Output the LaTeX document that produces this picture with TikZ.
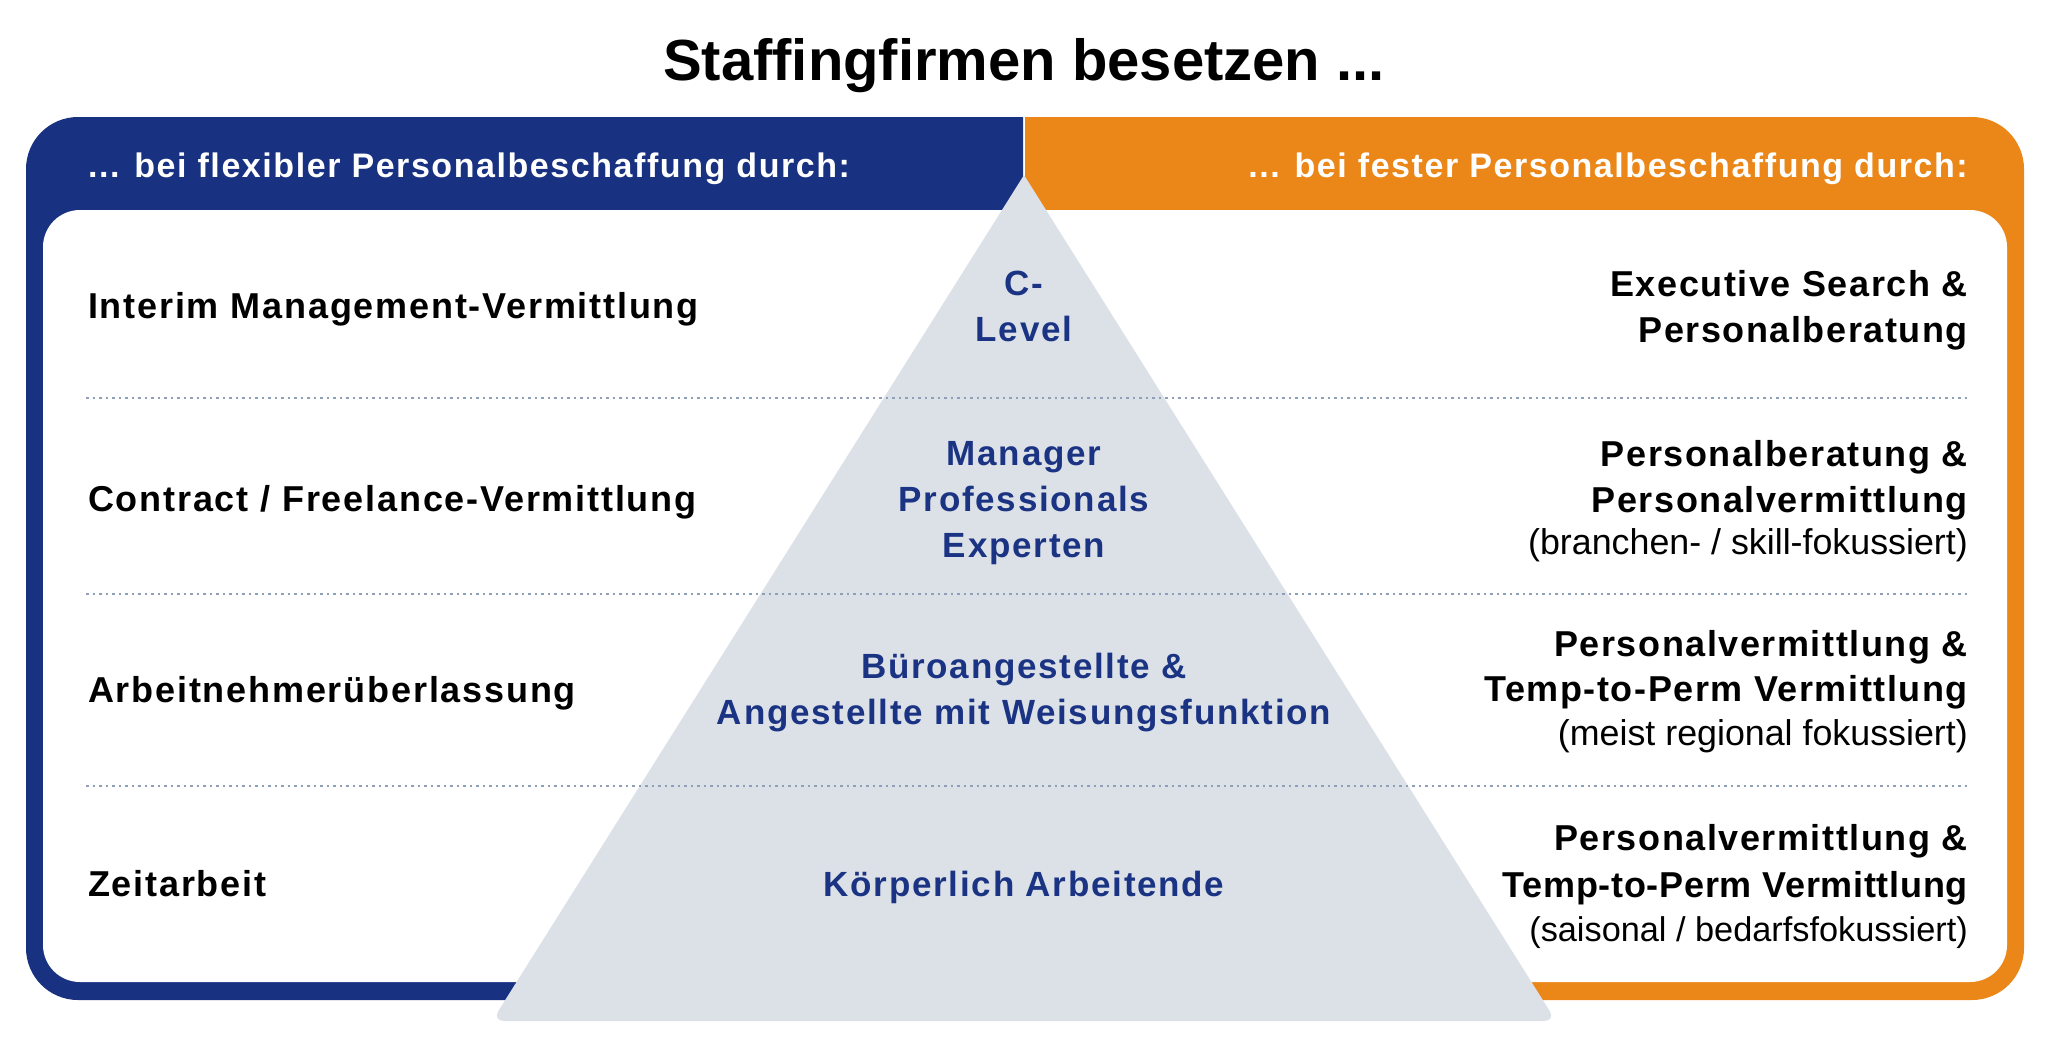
\documentclass[tikz,border=0pt]{standalone}
\usepackage{fontspec}
\setmainfont{Liberation Sans}
\newfontfamily\lsLeft[LetterSpace=5]{Liberation Sans}
\newfontfamily\lsRight[LetterSpace=4.3]{Liberation Sans}
\newfontfamily\lsRightTight[LetterSpace=2]{Liberation Sans}
\newfontfamily\lsHead[LetterSpace=4.6]{Liberation Sans}
\newfontfamily\lsMid[LetterSpace=5]{Liberation Sans}
\definecolor{frameblue}{HTML}{183181}
\definecolor{frameorange}{HTML}{EB8719}
\definecolor{pyrgray}{HTML}{DCE1E8}
\definecolor{midblue}{HTML}{1B3383}
\definecolor{dotcol}{HTML}{8E9FB8}
\tikzset{
  titletxt/.style={anchor=base, inner sep=0pt, font={\bfseries\fontsize{58}{66}\selectfont}},
  headtxt/.style={inner sep=0pt, text=white, font={\lsHead\bfseries\fontsize{34}{40}\selectfont}},
  lefttxt/.style={anchor=base west, inner sep=0pt, font={\lsLeft\bfseries\fontsize{36}{42}\selectfont}},
  righttxt/.style={anchor=base east, inner sep=0pt, font={\lsRight\bfseries\fontsize{36}{42}\selectfont}},
  righttight/.style={anchor=base east, inner sep=0pt, font={\lsRightTight\bfseries\fontsize{36}{42}\selectfont}},
  rightsub/.style={anchor=base east, inner sep=0pt, font={\fontsize{35.8}{40}\selectfont}},
  rightsubtight/.style={anchor=base east, inner sep=0pt, font={\fontsize{34.3}{40}\selectfont}},
  midtxt/.style={anchor=base, inner sep=0pt, text=midblue, font={\lsMid\bfseries\fontsize{35}{40}\selectfont}},
  sepline/.style={dotcol, line width=2.5pt, dash pattern=on 2.5pt off 4pt},
}
\begin{document}
\begin{tikzpicture}[x=1pt,y=-1pt]
\useasboundingbox (0,0) rectangle (2048,1042);
% frame halves
\begin{scope}
  \clip (0,100) rectangle (1023,1010);
  \fill[frameblue, rounded corners=52] (26,117) rectangle (2024,1000);
\end{scope}
\begin{scope}
  \clip (1025,100) rectangle (2048,1010);
  \fill[frameorange, rounded corners=52] (26,117) rectangle (2024,1000);
\end{scope}
\fill[white, rounded corners=37] (43,210) rectangle (2007,982);
% pyramid
\fill[pyrgray] (1024,175) [rounded corners=12] -- (492,1021) -- (1556,1021) [sharp corners] -- cycle;
% separators
\coordinate (s1a) at (86,398); \coordinate (s1b) at (1970,398);
\coordinate (s2a) at (86,594); \coordinate (s2b) at (1970,594);
\coordinate (s3a) at (86,786); \coordinate (s3b) at (1970,786);
\draw[sepline] (s1a) -- (s1b);
\draw[sepline] (s2a) -- (s2b);
\draw[sepline] (s3a) -- (s3b);
% title
\node[titletxt] (title) at (1024,80) {Staffingfirmen besetzen ...};
% headers
\node[headtxt, anchor=base west] (hl) at (88,177) {... bei flexibler Personalbeschaffung durch:};
\node[headtxt, anchor=base east] (hr) at (1968,177) {... bei fester Personalbeschaffung durch:};
% left column
\node[lefttxt] (l1) at (88,318) {Interim Management-Vermittlung};
\node[lefttxt] (l2) at (88,511) {Contract / Freelance-Vermittlung};
\node[lefttxt] (l3) at (88,702) {Arbeitnehmerüberlassung};
\node[lefttxt] (l4) at (88,896) {Zeitarbeit};
% middle column
\node[midtxt] (m1a) at (1024,295) {C-};
\node[midtxt] (m1b) at (1024,341) {Level};
\node[midtxt] (m2a) at (1024,465) {Manager};
\node[midtxt] (m2b) at (1024,511) {Professionals};
\node[midtxt] (m2c) at (1024,557) {Experten};
\node[midtxt] (m3a) at (1024,678) {Büroangestellte \&};
\node[midtxt] (m3b) at (1024,724) {Angestellte mit Weisungsfunktion};
\node[midtxt] (m4) at (1024,896) {Körperlich Arbeitende};
% right column
\node[righttxt] (r1a) at (1968,296) {Executive Search \&};
\node[righttxt] (r1b) at (1968,342) {Personalberatung};
\node[righttxt] (r2a) at (1968,466) {Personalberatung \&};
\node[righttxt] (r2b) at (1968,512) {Personalvermittlung};
\node[rightsub] (r2c) at (1968,554) {(branchen- / skill-fokussiert)};
\node[righttxt] (r3a) at (1968,656) {Personalvermittlung \&};
\node[righttxt] (r3b) at (1968,701) {Temp-to-Perm Vermittlung};
\node[rightsub] (r3c) at (1968,745) {(meist regional fokussiert)};
\node[righttxt] (r4a) at (1968,850) {Personalvermittlung \&};
\node[righttight] (r4b) at (1968,897) {Temp-to-Perm Vermittlung};
\node[rightsubtight] (r4c) at (1968,941) {(saisonal / bedarfsfokussiert)};
\end{tikzpicture}
\end{document}
